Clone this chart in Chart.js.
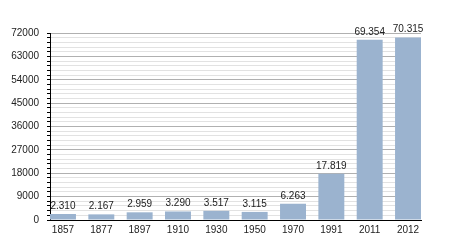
<!DOCTYPE html>
<html><head><meta charset="utf-8">
<script src="https://cdn.jsdelivr.net/npm/chart.js@4"></script>
<style>html,body{margin:0;padding:0;background:#fff}</style>
</head><body>
<canvas id="c" width="450" height="250"></canvas>
<script>
const categories = ['1857','1877','1897','1910','1930','1950','1970','1991','2011','2012'];
const population = [2310, 2167, 2959, 3290, 3517, 3115, 6263, 17819, 69354, 70315];
const valueLabels = ['2.310','2.167','2.959','3.290','3.517','3.115','6.263','17.819','69.354','70.315'];
const yMax = 72000, yMajor = 9000, yMinor = 1800;
const barFrac = 0.677;

const points = population.map((v, i) => ({ x: i, y: v }));
const fontFam = '"Liberation Sans", Arial, sans-serif';

const labelPlugin = {
  id: 'vals',
  afterDatasetsDraw(chart) {
    const ctx = chart.ctx;
    const meta = chart.getDatasetMeta(0);
    ctx.save();
    ctx.font = '10px ' + fontFam;
    ctx.fillStyle = '#222';
    ctx.textAlign = 'center';
    ctx.textBaseline = 'alphabetic';
    meta.data.forEach((bar, i) => {
      ctx.fillText(valueLabels[i], bar.x, bar.y - 5);
    });
    ctx.restore();
  }
};

new Chart(document.getElementById('c'), {
  type: 'bar',
  data: {
    datasets: [{
      data: points,
      backgroundColor: '#9bb3cf',
      barPercentage: barFrac,
      categoryPercentage: 1.0
    }]
  },
  options: {
    responsive: false,
    animation: false,
    devicePixelRatio: 1,
    layout: { padding: { top: 33, right: 29, left: 0, bottom: 0 } },
    plugins: { legend: { display: false }, tooltip: { enabled: false } },
    scales: {
      x: {
        type: 'linear',
        offset: false,
        min: -barFrac / 2,
        max: categories.length - 1 + barFrac / 2,
        afterBuildTicks(s) {
          s.ticks = categories.map((c, i) => ({ value: i }));
        },
        grid: { display: false, drawTicks: false, offset: false },
        border: { color: '#000', width: 1 },
        ticks: {
          autoSkip: false,
          color: '#222',
          font: { size: 10, family: fontFam },
          padding: 4, maxRotation: 0,
          callback: v => categories[v] !== undefined ? categories[v] : ''
        },
        afterFit(s) { s.height = 30; }
      },
      y: {
        min: 0, max: yMax,
        afterBuildTicks(s) {
          const t = [];
          for (let v = 0; v <= yMax; v += yMinor) t.push({ value: v });
          s.ticks = t;
        },
        grid: {
          color: c => (c.tick && c.tick.value % yMajor === 0) ? '#b0b0b0' : '#e2e2e2',
          tickColor: '#000',
          tickLength: c => (c.tick && c.tick.value % yMajor === 0) ? 6 : 3,
          drawTicks: true
        },
        border: { color: '#000', width: 1 },
        ticks: {
          autoSkip: false,
          color: '#222',
          font: { size: 10, family: fontFam },
          padding: 8,
          callback: v => (v % yMajor === 0) ? String(v) : ''
        },
        afterFit(s) { s.width = 50; }
      }
    }
  },
  plugins: [labelPlugin]
});
</script>
</body></html>
